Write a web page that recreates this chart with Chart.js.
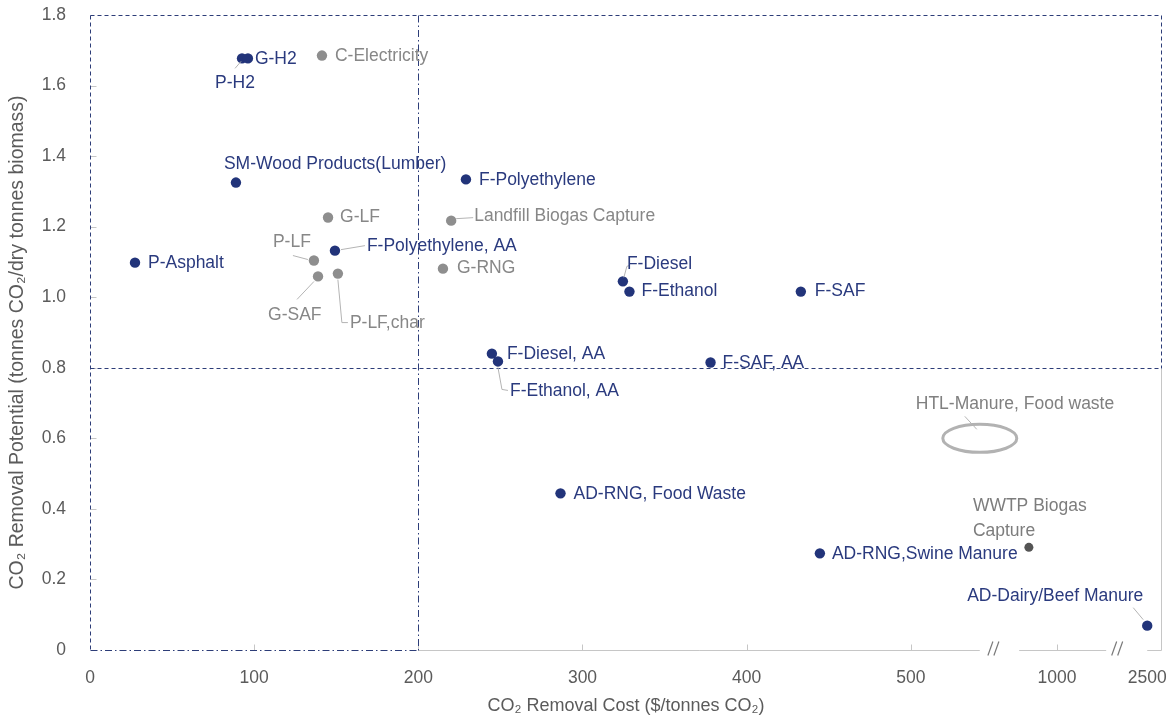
<!DOCTYPE html>
<html>
<head>
<meta charset="utf-8">
<script src="https://cdn.jsdelivr.net/npm/chart.js@4.4.1/dist/chart.umd.min.js"></script>
<style>
  html, body { margin: 0; padding: 0; background: #ffffff; }
  canvas { display: block; }
</style>
</head>
<body>
<canvas id="chart" width="1173" height="719"></canvas>
<script>
// ---- Data: CO2 removal cost ($/tonnes CO2) vs removal potential (t CO2 / dry t biomass) ----
const navyNames = ['P-H2', 'G-H2', 'SM-Wood Products(Lumber)', 'P-Asphalt', 'F-Polyethylene, AA',
  'F-Polyethylene', 'F-Diesel', 'F-Ethanol', 'F-SAF', 'F-Diesel, AA', 'F-Ethanol, AA', 'F-SAF, AA',
  'AD-RNG, Food Waste', 'AD-RNG,Swine Manure', 'AD-Dairy/Beef Manure'];
const navyCost = [92.6, 96.2, 88.9, 27.4, 149.2, 229, 324.6, 328.6, 433, 244.8, 248.5, 378, 286.6, 444.6, 2500];
const navyPotential = [1.677, 1.677, 1.325, 1.098, 1.132, 1.334, 1.045, 1.016, 1.016, 0.840, 0.818, 0.815, 0.444, 0.274, 0.069];

const grayNames = ['C-Electricity', 'G-LF', 'P-LF', 'G-SAF', 'P-LF,char', 'Landfill Biogas Capture', 'G-RNG'];
const grayCost = [141.3, 145, 136.4, 138.9, 151, 220, 215];
const grayPotential = [1.685, 1.226, 1.104, 1.059, 1.067, 1.217, 1.081];

const wwtpNames = ['WWTP Biogas\nCapture'];
const wwtpCost = [904];
const wwtpPotential = [0.291];

// HTL is shown as a range (ellipse) rather than a single point
const htlName = 'HTL-Manure, Food waste';
const htlCost = 736;
const htlPotential = 0.6;

// Threshold lines
const costThreshold = 200;
const potentialThreshold = 0.8;

// Axis ticks and titles
const xTickValues = [0, 100, 200, 300, 400, 500, 1000, 2500];
const yMin = 0, yMax = 1.8, yStep = 0.2;
const xTitle = 'CO\u2082 Removal Cost ($/tonnes CO\u2082)';
const yTitle = 'CO\u2082 Removal Potential (tonnes CO\u2082/dry tonnes biomass)';

// ---- Broken x axis: cost -> axis position (linear up to 500, compressed beyond) ----
const xBreaks = [[0, 0], [500, 500], [1000, 589], [2500, 644]];
const xEndPos = 653;
const axisGaps = [[542, 566], [619, 644]];   // gaps in the axis line (axis position units)
const breakMarks = [550.6, 626];

function costToPos(c) {
  for (let i = 1; i < xBreaks.length; i++) {
    const [c0, p0] = xBreaks[i - 1], [c1, p1] = xBreaks[i];
    if (c <= c1 || i === xBreaks.length - 1) return p0 + (c - c0) * (p1 - p0) / (c1 - c0);
  }
}
function posToCost(p) {
  for (let i = 1; i < xBreaks.length; i++) {
    const [c0, p0] = xBreaks[i - 1], [c1, p1] = xBreaks[i];
    if (p <= p1 || i === xBreaks.length - 1) return c0 + (p - p0) * (c1 - c0) / (p1 - p0);
  }
}

class BrokenLinearScale extends Chart.LinearScale {
  static id = 'brokenLinear';
  determineDataLimits() { this.min = 0; this.max = xEndPos; }
  buildTicks() {
    this.start = this.min; this.end = this.max;
    return xTickValues.map(value => ({ value }));
  }
  getPixelForPos(p) { return super.getPixelForValue(p); }
  getPixelForValue(v) { return v == null ? NaN : super.getPixelForValue(costToPos(v)); }
  getValueForPixel(px) { return posToCost(super.getValueForPixel(px)); }
}
Chart.register(BrokenLinearScale);

// ---- Styling ----
const NAVY = '#22347a';
const NAVY_TEXT = '#2a3a7e';
const GRAY = '#8e8e8e';
const GRAY_TEXT = '#878787';
const DARK_GRAY = '#555555';
const AXIS_GRAY = '#c6c6c6';
const LEADER = '#b4b4b4';
const TEXT = '#5b5b5b';
const FONT = "'Liberation Sans', Arial, Helvetica, sans-serif";
const LABEL_SIZE = 17.5;

// label offsets from each marker (pixels); leader = polyline relative to the marker
const labelPlacement = {
  'P-H2': { dx: -27, dy: 25, leader: [[-7, 10], [-1, 3]] },
  'G-H2': { dx: 7, dy: 1 },
  'C-Electricity': { dx: 13, dy: 1 },
  'SM-Wood Products(Lumber)': { dx: -12, dy: -18 },
  'P-Asphalt': { dx: 13, dy: 1 },
  'G-LF': { dx: 12, dy: 0 },
  'F-Polyethylene, AA': { dx: 32, dy: -4, leader: [[6, -1], [30, -5]] },
  'P-LF': { dx: -41, dy: -18, leader: [[-21, -5], [-6, -1]] },
  'G-SAF': { dx: -50, dy: 39, leader: [[-21, 23], [-4, 5]] },
  'P-LF,char': { dx: 12, dy: 50, leader: [[0, 6], [4, 49], [10, 49]] },
  'F-Polyethylene': { dx: 13, dy: 1 },
  'Landfill Biogas Capture': { dx: 23, dy: -4, leader: [[5, -2], [22, -3]] },
  'G-RNG': { dx: 14, dy: 0 },
  'F-Diesel': { dx: 4, dy: -17, leader: [[1, -4], [4, -15], [7, -16]] },
  'F-Ethanol': { dx: 12, dy: 0 },
  'F-SAF': { dx: 14, dy: 0 },
  'F-Diesel, AA': { dx: 15, dy: 1 },
  'F-Ethanol, AA': { dx: 12, dy: 30, leader: [[0, 6], [4, 28], [10, 29]] },
  'F-SAF, AA': { dx: 12, dy: 1 },
  'AD-RNG, Food Waste': { dx: 13, dy: 1 },
  'AD-RNG,Swine Manure': { dx: 12, dy: 1 },
  'AD-Dairy/Beef Manure': { dx: -4, dy: -29, align: 'right', leader: [[-14, -18], [-4, -6]] },
  'WWTP Biogas\nCapture': { dx: -56, dy: -41, lineGap: 25 },
  'HTL-Manure, Food waste': { dx: -64, dy: -34, leader: [[-15, -22], [-3, -9]] }
};

const toPoints = (xs, ys) => xs.map((x, i) => ({ x, y: ys[i] }));

const groups = [
  { names: navyNames, cost: navyCost, potential: navyPotential, color: NAVY_TEXT },
  { names: grayNames, cost: grayCost, potential: grayPotential, color: GRAY_TEXT },
  { names: wwtpNames, cost: wwtpCost, potential: wwtpPotential, color: '#7d7d7d' }
];

function line(ctx, pts) {
  ctx.beginPath();
  ctx.moveTo(pts[0][0], pts[0][1]);
  for (let i = 1; i < pts.length; i++) ctx.lineTo(pts[i][0], pts[i][1]);
  ctx.stroke();
}

// Frame, thresholds, broken axis, tick marks and HTL range ellipse
const framePlugin = {
  id: 'frame',
  beforeDatasetsDraw(chart) {
    const { ctx, chartArea: a, scales: { x, y } } = chart;
    const px = v => x.getPixelForValue(v);
    const pp = p => x.getPixelForPos(p);
    const py = v => y.getPixelForValue(v);
    const y0 = Math.round(py(0)) + 0.5;
    const yT = Math.round(py(potentialThreshold)) + 0.5;
    const xT = Math.round(px(costThreshold)) + 0.5;
    const L = Math.round(a.left) + 0.5, R = Math.round(a.right) - 0.5, T = Math.round(a.top) + 0.5;
    ctx.save();
    ctx.lineWidth = 1;

    // solid gray axis line with breaks
    ctx.strokeStyle = AXIS_GRAY;
    line(ctx, [[xT, y0], [pp(axisGaps[0][0]), y0]]);
    line(ctx, [[pp(axisGaps[0][1]), y0], [pp(axisGaps[1][0]), y0]]);
    line(ctx, [[pp(axisGaps[1][1]), y0], [R, y0]]);
    line(ctx, [[R, yT], [R, y0]]);

    // tick marks (inward)
    xTickValues.slice(1, -1).forEach(v => {
      const tx = Math.round(px(v)) + 0.5;
      line(ctx, [[tx, y0], [tx, y0 - 6]]);
    });
    for (let v = yStep; v < yMax - 1e-6; v += yStep) {
      const ty = Math.round(py(v)) + 0.5;
      line(ctx, [[L, ty], [L + 6, ty]]);
    }

    // break marks "//"
    ctx.strokeStyle = '#7a7a7a';
    ctx.lineWidth = 1.2;
    breakMarks.forEach(p => {
      const cx = pp(p);
      [-3, 3].forEach(k => line(ctx, [[cx + k - 3, y0 + 5], [cx + k + 2, y0 - 9]]));
    });

    // dashed high-potential region
    ctx.lineWidth = 1;
    ctx.strokeStyle = '#2d3d78';
    ctx.setLineDash([4, 3]);
    line(ctx, [[L, T], [R, T], [R, yT]]);
    line(ctx, [[L, yT], [R, yT]]);
    line(ctx, [[L, T], [L, y0]]);

    // dash-dot low-cost region
    ctx.setLineDash([7, 3, 1.5, 3]);
    line(ctx, [[xT, T], [xT, y0]]);
    line(ctx, [[L, y0], [xT, y0]]);
    ctx.setLineDash([]);

    // HTL range
    ctx.strokeStyle = '#b2b2b2';
    ctx.lineWidth = 3;
    ctx.beginPath();
    ctx.ellipse(px(htlCost), py(htlPotential), 37, 14, 0, 0, Math.PI * 2);
    ctx.stroke();
    ctx.restore();
  }
};

// Point labels with leader lines, plus the rotated y-axis title
const labelPlugin = {
  id: 'pointLabels',
  afterDatasetsDraw(chart) {
    const { ctx, chartArea: a, scales: { x, y } } = chart;
    ctx.save();
    ctx.font = `${LABEL_SIZE}px ${FONT}`;
    ctx.textBaseline = 'middle';
    const drawLabel = (name, cx, cy, color) => {
      const pl = labelPlacement[name] || { dx: 10, dy: 0 };
      if (pl.leader) {
        ctx.strokeStyle = LEADER;
        ctx.lineWidth = 1;
        line(ctx, pl.leader.map(([dx, dy]) => [cx + dx, cy + dy]));
      }
      ctx.fillStyle = color;
      ctx.textAlign = pl.align || 'left';
      name.split('\n').forEach((t, i) => {
        ctx.fillText(t, cx + pl.dx, cy + pl.dy + i * (pl.lineGap || 0));
      });
    };
    groups.forEach(g => g.names.forEach((n, i) => {
      drawLabel(n, x.getPixelForValue(g.cost[i]), y.getPixelForValue(g.potential[i]), g.color);
    }));
    drawLabel(htlName, x.getPixelForValue(htlCost), y.getPixelForValue(htlPotential), '#808080');

    // y-axis title
    ctx.translate(18, (a.top + a.bottom) / 2 + 10);
    ctx.rotate(-Math.PI / 2);
    ctx.textAlign = 'center';
    ctx.fillStyle = TEXT;
    ctx.font = `19.5px ${FONT}`;
    ctx.fillText(yTitle, 0, 0);
    ctx.restore();
  }
};

new Chart(document.getElementById('chart'), {
  type: 'scatter',
  data: {
    datasets: [
      { label: 'Navy pathways', data: toPoints(navyCost, navyPotential), backgroundColor: NAVY, borderWidth: 0, pointRadius: 5.2 },
      { label: 'Gray pathways', data: toPoints(grayCost, grayPotential), backgroundColor: GRAY, borderWidth: 0, pointRadius: 5.2 },
      { label: 'WWTP', data: toPoints(wwtpCost, wwtpPotential), backgroundColor: DARK_GRAY, borderWidth: 0, pointRadius: 4.5 }
    ]
  },
  options: {
    responsive: false,
    animation: false,
    layout: { padding: { top: 15, right: 11, left: 0, bottom: 0 } },
    plugins: { legend: { display: false }, tooltip: { enabled: false } },
    scales: {
      x: {
        type: 'brokenLinear',
        position: 'bottom',
        grid: { display: false, drawTicks: false },
        border: { display: false },
        ticks: {
          autoSkip: false, maxRotation: 0, padding: 18,
          color: TEXT, font: { family: FONT, size: 17.5 },
          callback: v => String(v)
        },
        title: {
          display: true, text: xTitle,
          color: TEXT, font: { family: FONT, size: 18 }, padding: { top: 0, bottom: 2 }
        },
        afterFit: s => { s.height = 69; s.paddingLeft = 0; s.paddingRight = 0; }
      },
      y: {
        min: yMin, max: yMax,
        grid: { display: false, drawTicks: false },
        border: { display: false },
        ticks: {
          stepSize: yStep, padding: 24,
          color: TEXT, font: { family: FONT, size: 17.5 },
          callback: v => (Math.abs(v) < 1e-9 ? '0' : v.toFixed(1))
        },
        title: { display: false },
        afterFit: s => { s.width = 90; s.paddingTop = 0; s.paddingBottom = 0; }
      }
    }
  },
  plugins: [framePlugin, labelPlugin]
});
</script>
</body>
</html>
